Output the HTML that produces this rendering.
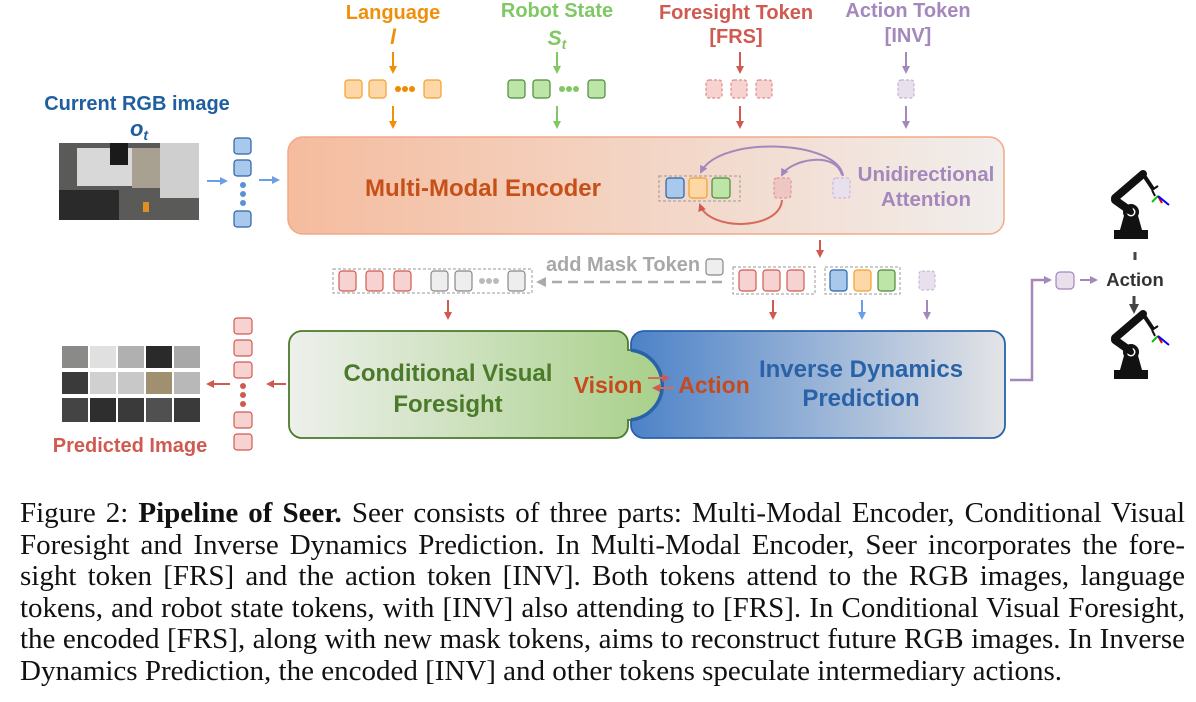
<!DOCTYPE html>
<html><head><meta charset="utf-8"><style>
body{margin:0;background:#fff;width:1196px;height:702px;overflow:hidden;position:relative}
svg{position:absolute;left:0;top:0}
.cap{position:absolute;left:20px;width:1165px;font-family:"Liberation Serif",serif;font-size:29px;line-height:31.6px;color:#111;top:498px}
.cap div{text-align:justify;text-align-last:justify;white-space:nowrap}
.cap div.l{text-align-last:left}
text{font-family:"Liberation Sans",sans-serif;font-weight:bold}
</style></head><body>
<svg width="1196" height="702" viewBox="0 0 1196 702">
<defs>
<linearGradient id="ge" x1="0" x2="1"><stop offset="0" stop-color="#f5bc9e"/><stop offset="1" stop-color="#f1eeec"/></linearGradient>
<linearGradient id="gg" x1="0" x2="1"><stop offset="0" stop-color="#eef0ec"/><stop offset="1" stop-color="#a8d08a"/></linearGradient>
<linearGradient id="gb" x1="0" x2="1"><stop offset="0" stop-color="#4c82c8"/><stop offset="1" stop-color="#e4e4e6"/></linearGradient>
<marker id="ao" markerWidth="8" markerHeight="8" refX="6" refY="4" orient="auto" markerUnits="userSpaceOnUse"><path d="M0,0L8,4L0,8z" fill="#f0900a"/></marker>
<marker id="ag" markerWidth="8" markerHeight="8" refX="6" refY="4" orient="auto" markerUnits="userSpaceOnUse"><path d="M0,0L8,4L0,8z" fill="#80c864"/></marker>
<marker id="ar" markerWidth="8" markerHeight="8" refX="6" refY="4" orient="auto" markerUnits="userSpaceOnUse"><path d="M0,0L8,4L0,8z" fill="#d05a50"/></marker>
<marker id="ap" markerWidth="8" markerHeight="8" refX="6" refY="4" orient="auto" markerUnits="userSpaceOnUse"><path d="M0,0L8,4L0,8z" fill="#a487bc"/></marker>
<marker id="ab" markerWidth="8" markerHeight="8" refX="6" refY="4" orient="auto" markerUnits="userSpaceOnUse"><path d="M0,0L8,4L0,8z" fill="#6a9ee6"/></marker>
<marker id="ay" markerWidth="10" markerHeight="10" refX="6" refY="5" orient="auto" markerUnits="userSpaceOnUse"><path d="M0,0L10,5L0,10z" fill="#aaa"/></marker>
<marker id="ak" markerWidth="10" markerHeight="10" refX="6" refY="5" orient="auto" markerUnits="userSpaceOnUse"><path d="M0,0L10,5L0,10z" fill="#444"/></marker>
</defs>

<text x="393" y="19" font-size="20" fill="#f0900a" text-anchor="middle">Language</text>
<text x="393" y="44" font-size="21" fill="#f0900a" text-anchor="middle" font-style="italic" font-family="Liberation Serif">l</text>
<text x="557" y="17" font-size="20" fill="#80c864" text-anchor="middle">Robot State</text>
<text x="557" y="45" font-size="21" fill="#80c864" text-anchor="middle" font-style="italic" font-family="Liberation Serif">S<tspan font-size="14" dy="4">t</tspan></text>
<text x="736" y="19" font-size="20" fill="#d05a50" text-anchor="middle">Foresight Token</text>
<text x="736" y="43" font-size="20" fill="#d05a50" text-anchor="middle">[FRS]</text>
<text x="908" y="17" font-size="20" fill="#a487bc" text-anchor="middle">Action Token</text>
<text x="908" y="42" font-size="20" fill="#a487bc" text-anchor="middle">[INV]</text>

<g stroke-width="2">
<line x1="393" y1="52" x2="393" y2="72" stroke="#f0900a" marker-end="url(#ao)"/>
<line x1="393" y1="106" x2="393" y2="127" stroke="#f0900a" marker-end="url(#ao)"/>
<line x1="557" y1="52" x2="557" y2="72" stroke="#80c864" marker-end="url(#ag)"/>
<line x1="557" y1="106" x2="557" y2="127" stroke="#80c864" marker-end="url(#ag)"/>
<line x1="740" y1="52" x2="740" y2="72" stroke="#d05a50" marker-end="url(#ar)"/>
<line x1="740" y1="106" x2="740" y2="127" stroke="#d05a50" marker-end="url(#ar)"/>
<line x1="906" y1="52" x2="906" y2="72" stroke="#a487bc" marker-end="url(#ap)"/>
<line x1="906" y1="106" x2="906" y2="127" stroke="#a487bc" marker-end="url(#ap)"/>
</g>
<g stroke-width="1.2">
<rect x="345" y="80" width="17" height="18" rx="3" fill="#fdd7a6" stroke="#f0a030"/>
<rect x="369" y="80" width="17" height="18" rx="3" fill="#fdd7a6" stroke="#f0a030"/>
<rect x="424" y="80" width="17" height="18" rx="3" fill="#fdd7a6" stroke="#f0a030"/>
<rect x="508" y="80" width="17" height="18" rx="3" fill="#bde5a8" stroke="#4c8a38"/>
<rect x="533" y="80" width="17" height="18" rx="3" fill="#bde5a8" stroke="#4c8a38"/>
<rect x="588" y="80" width="17" height="18" rx="3" fill="#bde5a8" stroke="#4c8a38"/>
<g fill="#f6d2d0" stroke="#e08a86" stroke-dasharray="3,2">
<rect x="706" y="80" width="16" height="18" rx="3"/><rect x="731" y="80" width="16" height="18" rx="3"/><rect x="756" y="80" width="16" height="18" rx="3"/></g>
<rect x="898" y="80" width="16" height="18" rx="3" fill="#e8e0ec" stroke="#c4b0d4" stroke-dasharray="3,2"/>
</g>
<g fill="#f08a00"><circle cx="398" cy="89" r="3"/><circle cx="405" cy="89" r="3"/><circle cx="412" cy="89" r="3"/></g>
<g fill="#80c864"><circle cx="562" cy="89" r="3"/><circle cx="569" cy="89" r="3"/><circle cx="576" cy="89" r="3"/></g>

<text x="137" y="110" font-size="20" fill="#1f5fa0" text-anchor="middle">Current RGB image</text>
<text x="139" y="136" font-size="22" fill="#1f5fa0" text-anchor="middle" font-style="italic" font-family="Liberation Serif">o<tspan font-size="14" dy="4">t</tspan></text>
<rect x="59" y="143" width="140" height="77" fill="#5a5a58"/>
<rect x="77" y="148" width="55" height="38" fill="#d8d8d8"/>
<rect x="160" y="143" width="39" height="55" fill="#cfcfcf"/>
<rect x="132" y="148" width="28" height="40" fill="#a8a090"/>
<rect x="59" y="190" width="60" height="30" fill="#2a2a2a"/>
<rect x="110" y="143" width="18" height="22" fill="#1a1a1a"/>
<rect x="143" y="202" width="6" height="10" fill="#e09020"/>
<line x1="207" y1="181" x2="226" y2="181" stroke="#6a9ee6" stroke-width="2" marker-end="url(#ab)"/>
<line x1="259" y1="180" x2="278" y2="180" stroke="#6a9ee6" stroke-width="2" marker-end="url(#ab)"/>
<g fill="#a8c8ec" stroke="#2a62a8" stroke-width="1.2">
<rect x="234" y="138" width="17" height="16" rx="3"/><rect x="234" y="160" width="17" height="16" rx="3"/><rect x="234" y="211" width="17" height="16" rx="3"/></g>
<g fill="#5a90d8"><circle cx="243" cy="185" r="3"/><circle cx="243" cy="194" r="3"/><circle cx="243" cy="203" r="3"/></g>

<rect x="288" y="137" width="716" height="97" rx="15" fill="url(#ge)" stroke="#f2a888" stroke-width="1.5"/>
<text x="483" y="196" font-size="24" fill="#c65018" text-anchor="middle">Multi-Modal Encoder</text>
<text x="926" y="181" font-size="20.5" fill="#a487bc" text-anchor="middle">Unidirectional</text>
<text x="926" y="206" font-size="20.5" fill="#a487bc" text-anchor="middle">Attention</text>
<rect x="659" y="176" width="81" height="25" fill="none" stroke="#999" stroke-dasharray="3,2"/>
<rect x="666" y="178" width="18" height="20" rx="3" fill="#a8c8ec" stroke="#2a62a8" stroke-width="1.2"/>
<rect x="689" y="178" width="18" height="20" rx="3" fill="#fdd7a6" stroke="#f0a030" stroke-width="1.2"/>
<rect x="712" y="178" width="18" height="20" rx="3" fill="#bde5a8" stroke="#4c8a38" stroke-width="1.2"/>
<rect x="774" y="178" width="17" height="20" rx="3" fill="#eec6c4" stroke="#e08a86" stroke-dasharray="3,2"/>
<rect x="833" y="178" width="17" height="20" rx="3" fill="#e8e0ec" stroke="#c4b0d4" stroke-dasharray="3,2"/>
<path d="M843,176 C838,140 720,135 701,172" fill="none" stroke="#a487bc" stroke-width="2" marker-end="url(#ap)"/>
<path d="M842,175 C835,150 790,160 782,175" fill="none" stroke="#a487bc" stroke-width="2" marker-end="url(#ap)"/>
<path d="M782,200 C780,230 710,232 700,205" fill="none" stroke="#d86a5a" stroke-width="2" marker-end="url(#ar)"/>

<line x1="820" y1="240" x2="820" y2="256" stroke="#d05a50" stroke-width="2" marker-end="url(#ar)"/>
<text x="623" y="271" font-size="20" fill="#a8a8a8" text-anchor="middle">add Mask Token</text>
<rect x="706" y="259" width="17" height="16" rx="3" fill="#eee" stroke="#888" stroke-width="1.2"/>
<line x1="722" y1="282" x2="540" y2="282" stroke="#aaa" stroke-width="2.5" stroke-dasharray="10,6" marker-end="url(#ay)"/>
<rect x="333" y="269" width="199" height="24" fill="none" stroke="#999" stroke-dasharray="3,2"/>
<g stroke-width="1.2">
<rect x="339" y="271" width="17" height="20" rx="3" fill="#f6d2d0" stroke="#d05a50"/>
<rect x="366" y="271" width="17" height="20" rx="3" fill="#f6d2d0" stroke="#d05a50"/>
<rect x="394" y="271" width="17" height="20" rx="3" fill="#f6d2d0" stroke="#d05a50"/>
<rect x="431" y="271" width="17" height="20" rx="3" fill="#eee" stroke="#888"/>
<rect x="455" y="271" width="17" height="20" rx="3" fill="#eee" stroke="#888"/>
<rect x="508" y="271" width="17" height="20" rx="3" fill="#eee" stroke="#888"/>
</g>
<g fill="#bbb"><circle cx="482" cy="281" r="3"/><circle cx="489" cy="281" r="3"/><circle cx="496" cy="281" r="3"/></g>
<rect x="733" y="267" width="82" height="27" fill="none" stroke="#999" stroke-dasharray="3,2"/>
<g stroke-width="1.2">
<rect x="739" y="270" width="17" height="21" rx="3" fill="#f6d2d0" stroke="#d05a50"/>
<rect x="763" y="270" width="17" height="21" rx="3" fill="#f6d2d0" stroke="#d05a50"/>
<rect x="787" y="270" width="17" height="21" rx="3" fill="#f6d2d0" stroke="#d05a50"/>
</g>
<rect x="825" y="267" width="75" height="27" fill="none" stroke="#999" stroke-dasharray="3,2"/>
<g stroke-width="1.2">
<rect x="830" y="270" width="17" height="21" rx="3" fill="#a8c8ec" stroke="#2a62a8"/>
<rect x="854" y="270" width="17" height="21" rx="3" fill="#fdd7a6" stroke="#f0a030"/>
<rect x="878" y="270" width="17" height="21" rx="3" fill="#bde5a8" stroke="#4c8a38"/>
</g>
<rect x="919" y="271" width="16" height="19" rx="3" fill="#e8e0ec" stroke="#c4b0d4" stroke-dasharray="3,2"/>
<g stroke-width="2">
<line x1="448" y1="300" x2="448" y2="318" stroke="#d05a50" marker-end="url(#ar)"/>
<line x1="773" y1="300" x2="773" y2="318" stroke="#d05a50" marker-end="url(#ar)"/>
<line x1="862" y1="300" x2="862" y2="318" stroke="#6a9ee6" marker-end="url(#ab)"/>
<line x1="927" y1="300" x2="927" y2="318" stroke="#a487bc" marker-end="url(#ap)"/>
</g>

<rect x="631" y="331" width="374" height="107" rx="13" fill="url(#gb)" stroke="#2a62a8" stroke-width="1.8"/>
<path d="M302,331 H616 a12,12 0 0 1 12,12 V350 a35,35 0 0 1 0,70 V426 a12,12 0 0 1 -12,12 H302 a13,13 0 0 1 -13,-13 V344 a13,13 0 0 1 13,-13z" fill="url(#gg)" stroke="#4a7a2a" stroke-width="1.8"/>
<path d="M631,350.2 a35,35 0 0 1 0,69.6" fill="none" stroke="#2a62a8" stroke-width="3.5"/>
<text x="448" y="381" font-size="24" fill="#4a7a2a" text-anchor="middle">Conditional Visual</text>
<text x="448" y="412" font-size="24" fill="#4a7a2a" text-anchor="middle">Foresight</text>
<text x="861" y="377" font-size="24" fill="#2a62a8" text-anchor="middle">Inverse Dynamics</text>
<text x="861" y="406" font-size="24" fill="#2a62a8" text-anchor="middle">Prediction</text>
<text x="608" y="393" font-size="23" fill="#c84a1a" text-anchor="middle">Vision</text>
<text x="714" y="393" font-size="23" fill="#c84a1a" text-anchor="middle">Action</text>
<line x1="648" y1="378" x2="668" y2="378" stroke="#d86a5a" stroke-width="2" marker-end="url(#ar)"/>
<line x1="674" y1="388" x2="654" y2="388" stroke="#d86a5a" stroke-width="2" marker-end="url(#ar)"/>

<line x1="286" y1="384" x2="268" y2="384" stroke="#d05a50" stroke-width="2" marker-end="url(#ar)"/>
<line x1="230" y1="384" x2="208" y2="384" stroke="#d05a50" stroke-width="2" marker-end="url(#ar)"/>
<g fill="#f6d2d0" stroke="#d05a50" stroke-width="1.2">
<rect x="234" y="318" width="18" height="16" rx="3"/><rect x="234" y="340" width="18" height="16" rx="3"/><rect x="234" y="362" width="18" height="16" rx="3"/>
<rect x="234" y="412" width="18" height="16" rx="3"/><rect x="234" y="434" width="18" height="16" rx="3"/></g>
<g fill="#d05a50"><circle cx="243" cy="386" r="3"/><circle cx="243" cy="395" r="3"/><circle cx="243" cy="404" r="3"/></g>
<g>
<rect x="62" y="346" width="26" height="22" fill="#8a8a88"/><rect x="90" y="346" width="26" height="22" fill="#e0e0e0"/><rect x="118" y="346" width="26" height="22" fill="#b0b0b0"/><rect x="146" y="346" width="26" height="22" fill="#2a2a2a"/><rect x="174" y="346" width="26" height="22" fill="#a8a8a8"/>
<rect x="62" y="372" width="26" height="22" fill="#3a3a3a"/><rect x="90" y="372" width="26" height="22" fill="#d0d0d0"/><rect x="118" y="372" width="26" height="22" fill="#c8c8c8"/><rect x="146" y="372" width="26" height="22" fill="#a09070"/><rect x="174" y="372" width="26" height="22" fill="#b8b8b8"/>
<rect x="62" y="398" width="26" height="24" fill="#444"/><rect x="90" y="398" width="26" height="24" fill="#2e2e2e"/><rect x="118" y="398" width="26" height="24" fill="#3a3a3a"/><rect x="146" y="398" width="26" height="24" fill="#505050"/><rect x="174" y="398" width="26" height="24" fill="#3a3a3a"/>
</g>
<text x="130" y="452" font-size="20" fill="#d05a50" text-anchor="middle">Predicted Image</text>

<polyline points="1010,380 1032,380 1032,280 1050,280" fill="none" stroke="#a487bc" stroke-width="2.5" marker-end="url(#ap)"/>
<rect x="1056" y="272" width="18" height="17" rx="4" fill="#e8e0ec" stroke="#a487bc" stroke-width="1.2"/>
<line x1="1080" y1="280" x2="1096" y2="280" stroke="#a487bc" stroke-width="2" marker-end="url(#ap)"/>
<text x="1135" y="286" font-size="18.5" fill="#333" text-anchor="middle">Action</text>
<line x1="1135" y1="252" x2="1135" y2="260" stroke="#444" stroke-width="3"/>
<line x1="1134" y1="296" x2="1134" y2="310" stroke="#444" stroke-width="3" marker-end="url(#ak)"/>
<g id="rb">
<rect x="1114" y="230" width="34" height="9" fill="#111"/>
<path d="M1120,230 L1125,212 H1137 L1142,230z" fill="#111"/>
<circle cx="1131" cy="212" r="8" fill="#111"/><circle cx="1131" cy="212" r="4.5" fill="#fff"/><circle cx="1131" cy="212" r="3" fill="#111"/>
<line x1="1115" y1="200" x2="1129" y2="210" stroke="#111" stroke-width="8" stroke-linecap="round"/>
<line x1="1115" y1="198" x2="1143" y2="174" stroke="#111" stroke-width="8" stroke-linecap="round"/>
<line x1="1143" y1="174" x2="1153" y2="189" stroke="#111" stroke-width="4"/>
<path d="M1152,190 l6,-4 M1152,190 l3,6" stroke="#111" stroke-width="2"/>
<line x1="1158" y1="196" x2="1152" y2="202" stroke="#0c0" stroke-width="2"/>
<line x1="1158" y1="196" x2="1162" y2="203" stroke="#d00" stroke-width="2"/>
<line x1="1158" y1="196" x2="1169" y2="205" stroke="#00f" stroke-width="2"/>
</g>
<use href="#rb" transform="translate(0,140)"/>
</svg>
<div class="cap">
<div>Figure 2: <b>Pipeline of Seer.</b> Seer consists of three parts: Multi-Modal Encoder, Conditional Visual</div>
<div>Foresight and Inverse Dynamics Prediction. In Multi-Modal Encoder, Seer incorporates the fore-</div>
<div>sight token [FRS] and the action token [INV]. Both tokens attend to the RGB images, language</div>
<div>tokens, and robot state tokens, with [INV] also attending to [FRS]. In Conditional Visual Foresight,</div>
<div>the encoded [FRS], along with new mask tokens, aims to reconstruct future RGB images. In Inverse</div>
<div class="l">Dynamics Prediction, the encoded [INV] and other tokens speculate intermediary actions.</div>
</div>
</body></html>
